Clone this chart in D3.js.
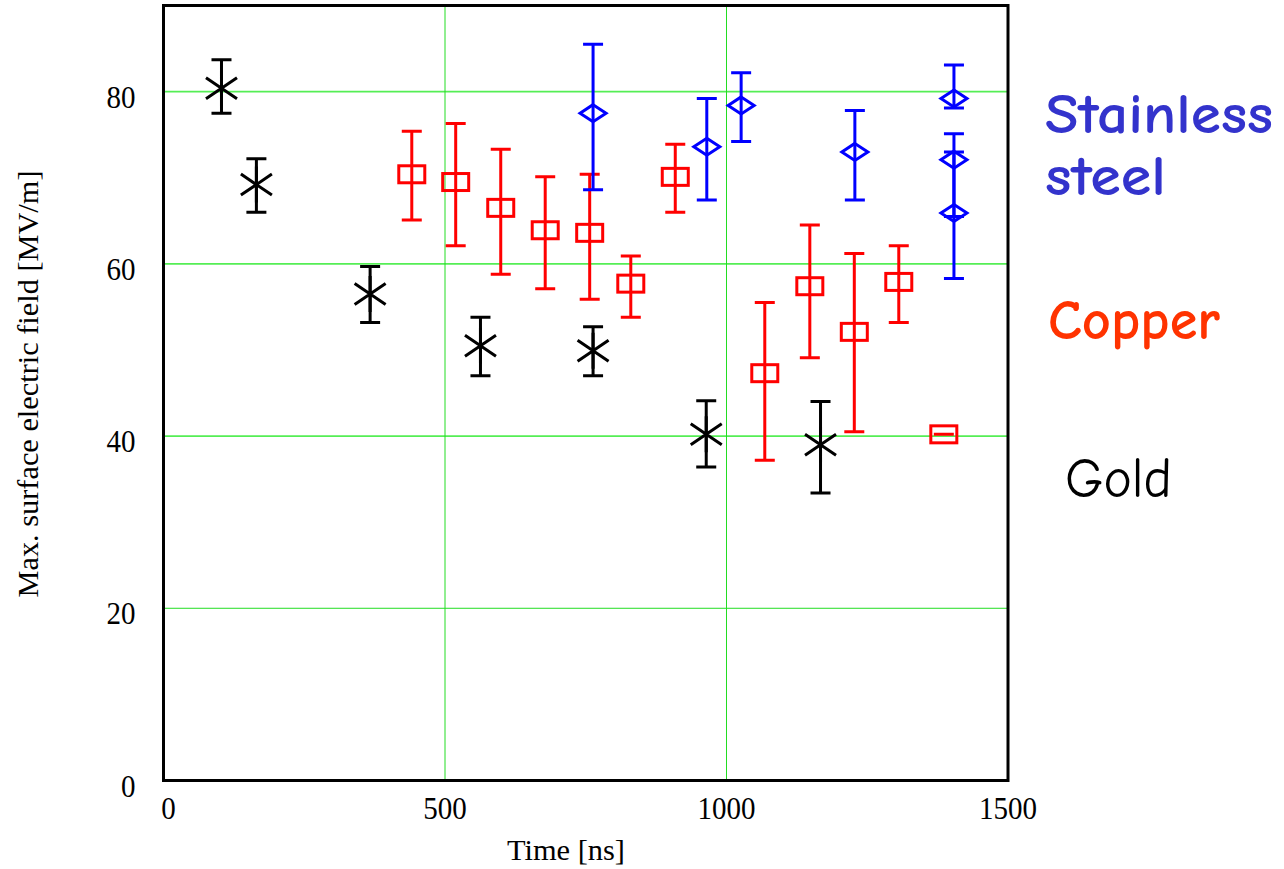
<!DOCTYPE html>
<html>
<head>
<meta charset="utf-8">
<script src="https://cdn.jsdelivr.net/npm/d3@7"></script>
<style>
  html, body { margin: 0; padding: 0; background: #fff; }
  svg { display: block; }
  .tick-label { font-family: "Liberation Serif", "Times New Roman", serif; font-size: 32px; fill: #000; }
  .axis-label { font-family: "Liberation Serif", "Times New Roman", serif; font-size: 30px; fill: #000; }
  .legend { font-family: "Comic Sans MS", "Comic Neue", "DejaVu Sans", sans-serif; font-size: 56px; }
</style>
</head>
<body>
<script>
// Gold (black asterisks): time [ns], field [MV/m], lower / upper error
const goldTime = [103, 165, 367, 563, 763, 964, 1167];
const goldField = [80.4, 69.2, 56.5, 50.5, 49.9, 40.2, 39.0];
const goldLow = [77.5, 66.0, 53.2, 47.0, 47.0, 36.4, 33.4];
const goldHigh = [83.7, 72.2, 59.7, 53.8, 52.7, 44.1, 44.0];

// Copper (red squares)
const copperTime = [441, 519, 599, 678, 757, 830, 909, 1068, 1148, 1227, 1306, 1386];
const copperField = [70.4, 69.5, 66.5, 63.9, 63.6, 57.7, 70.1, 47.3, 57.4, 52.1, 57.9, 40.2];
const copperLow = [65.1, 62.1, 58.8, 57.1, 55.9, 53.8, 66.0, 37.2, 49.1, 40.5, 53.2, 40.2];
const copperHigh = [75.4, 76.3, 73.3, 70.1, 70.4, 60.9, 73.9, 55.5, 64.5, 61.2, 62.1, 40.2];

// Stainless steel (blue diamonds)
const steelTime = [763, 965, 1026, 1228, 1404, 1404, 1404];
const steelField = [77.5, 73.6, 78.4, 73.0, 79.2, 72.1, 65.9];
const steelLow = [68.6, 67.4, 74.2, 67.4, 78.1, 65.5, 58.3];
const steelHigh = [85.5, 79.2, 82.2, 77.8, 83.1, 75.1, 73.0];

const xTicks = [0, 500, 1000, 1500];
const yTicks = [0, 20, 40, 60, 80];

const width = 1284, height = 869;
const plot = {left: 163.5, right: 1008, top: 5.5, bottom: 780.5};

const x = d3.scaleLinear().domain([0, 1500]).range([plot.left, plot.right]);
const y = d3.scaleLinear().domain([0, 90]).range([plot.bottom, plot.top]);

const svg = d3.select('body').append('svg')
    .attr('width', width)
    .attr('height', height)
    .attr('viewBox', `0 0 ${width} ${height}`);

svg.append('rect').attr('width', width).attr('height', height).attr('fill', '#fff');

// Grid lines
svg.append('g')
   .selectAll('line')
   .data(yTicks.filter(d => d > 0))
   .join('line')
     .attr('x1', plot.left).attr('x2', plot.right)
     .attr('y1', d => y(d)).attr('y2', d => y(d))
     .attr('stroke', d => d === 20 ? '#22dd22' : '#55ee55')
     .attr('stroke-width', d => d === 20 ? 1 : 1.8);

svg.append('g')
   .selectAll('line')
   .data(xTicks.filter(d => d > 0 && d < 1500))
   .join('line')
     .attr('x1', d => x(d)).attr('x2', d => x(d))
     .attr('y1', plot.top).attr('y2', plot.bottom)
     .attr('stroke', '#22dd22')
     .attr('stroke-width', 1);

// Tick labels (narrow, tall serif digits)
const digitW = 14.5;
svg.append('g')
   .selectAll('text')
   .data(yTicks)
   .join('text')
     .attr('class', 'tick-label')
     .attr('text-anchor', 'end')
     .attr('x', plot.left - 28)
     .attr('y', d => y(d) + 16)
     .attr('textLength', d => String(d).length * digitW)
     .attr('lengthAdjust', 'spacingAndGlyphs')
     .text(d => d);

svg.append('g')
   .selectAll('text')
   .data(xTicks)
   .join('text')
     .attr('class', 'tick-label')
     .attr('text-anchor', 'middle')
     .attr('x', d => x(d) + (d === 0 ? 5 : 0))
     .attr('y', plot.bottom + 38.5)
     .attr('textLength', d => String(d).length * digitW)
     .attr('lengthAdjust', 'spacingAndGlyphs')
     .text(d => d);

// Axis titles
svg.append('text')
   .attr('class', 'axis-label')
   .attr('text-anchor', 'middle')
   .attr('x', 566)
   .attr('y', 860)
   .attr('textLength', 118)
   .attr('lengthAdjust', 'spacingAndGlyphs')
   .text('Time [ns]');

svg.append('text')
   .attr('class', 'axis-label')
   .attr('text-anchor', 'middle')
   .attr('transform', 'rotate(-90)')
   .attr('x', -384)
   .attr('y', 38)
   .attr('textLength', 427)
   .attr('lengthAdjust', 'spacingAndGlyphs')
   .text('Max. surface electric field [MV/m]');

// Data series
function series(time, field, low, high) {
  return time.map((t, i) => ({t, v: field[i], lo: low[i], hi: high[i]}));
}

function drawErrors(g, data, color) {
  const cap = 10;
  const eb = g.append('g').attr('stroke', color).attr('stroke-width', 3).attr('fill', 'none');
  eb.selectAll('path')
    .data(data)
    .join('path')
      .attr('d', d => {
        const cx = x(d.t), y1 = y(d.hi), y2 = y(d.lo);
        return `M${cx},${y1}V${y2}M${cx - cap},${y1}H${cx + cap}M${cx - cap},${y2}H${cx + cap}`;
      });
}

const gold = series(goldTime, goldField, goldLow, goldHigh);
const copper = series(copperTime, copperField, copperLow, copperHigh);
const steel = series(steelTime, steelField, steelLow, steelHigh);

// Copper boxes
const gCu = svg.append('g');
drawErrors(gCu, copper, '#ff0000');
gCu.selectAll('rect')
   .data(copper)
   .join('rect')
     .attr('x', d => x(d.t) - 13)
     .attr('y', d => y(d.v) - 8.5)
     .attr('width', 26)
     .attr('height', 17)
     .attr('fill', 'none')
     .attr('stroke', '#ff0000')
     .attr('stroke-width', 3);

// Gold asterisks
const gAu = svg.append('g');
drawErrors(gAu, gold, '#000');
gAu.selectAll('path.star')
   .data(gold)
   .join('path')
     .attr('class', 'star')
     .attr('fill', 'none')
     .attr('stroke', '#000')
     .attr('stroke-width', 3)
     .attr('d', d => {
       const cx = x(d.t), cy = y(d.v), dx = 15.5, dy = 10.5;
       return `M${cx - dx},${cy - dy}L${cx + dx},${cy + dy}M${cx - dx},${cy + dy}L${cx + dx},${cy - dy}M${cx},${cy - 18}V${cy + 18}`;
     });

// Stainless steel diamonds
const gSs = svg.append('g');
drawErrors(gSs, steel, '#0000ff');
gSs.selectAll('path.diamond')
   .data(steel)
   .join('path')
     .attr('class', 'diamond')
     .attr('fill', 'none')
     .attr('stroke', '#0000ff')
     .attr('stroke-width', 3)
     .attr('d', d => {
       const cx = x(d.t), cy = y(d.v), hw = 13, hh = 8.5;
       return `M${cx},${cy - hh}L${cx + hw},${cy}L${cx},${cy + hh}L${cx - hw},${cy}Z`;
     });

// Plot frame
svg.append('rect')
   .attr('x', plot.left)
   .attr('y', plot.top)
   .attr('width', plot.right - plot.left)
   .attr('height', plot.bottom - plot.top)
   .attr('fill', 'none')
   .attr('stroke', '#000')
   .attr('stroke-width', 3);

// Material labels
const labels = [
  {text: 'Stainless', x: 1045, y: 133, len: 228, color: '#3333cc', weight: 'bold'},
  {text: 'steel', x: 1045, y: 195, len: 121, color: '#3333cc', weight: 'bold'},
  {text: 'Copper', x: 1048, y: 339, len: 172, color: '#ff3300', weight: 'bold'},
  {text: 'Gold', x: 1065, y: 497, len: 107, color: '#000', weight: 'normal'}
];
svg.append('g')
   .selectAll('text')
   .data(labels)
   .join('text')
     .attr('class', 'legend')
     .attr('x', d => d.x)
     .attr('y', d => d.y)
     .attr('fill', d => d.color)
     .attr('font-weight', d => d.weight)
     .attr('textLength', d => d.len)
     .attr('lengthAdjust', 'spacingAndGlyphs')
     .text(d => d.text);
</script>
</body>
</html>
